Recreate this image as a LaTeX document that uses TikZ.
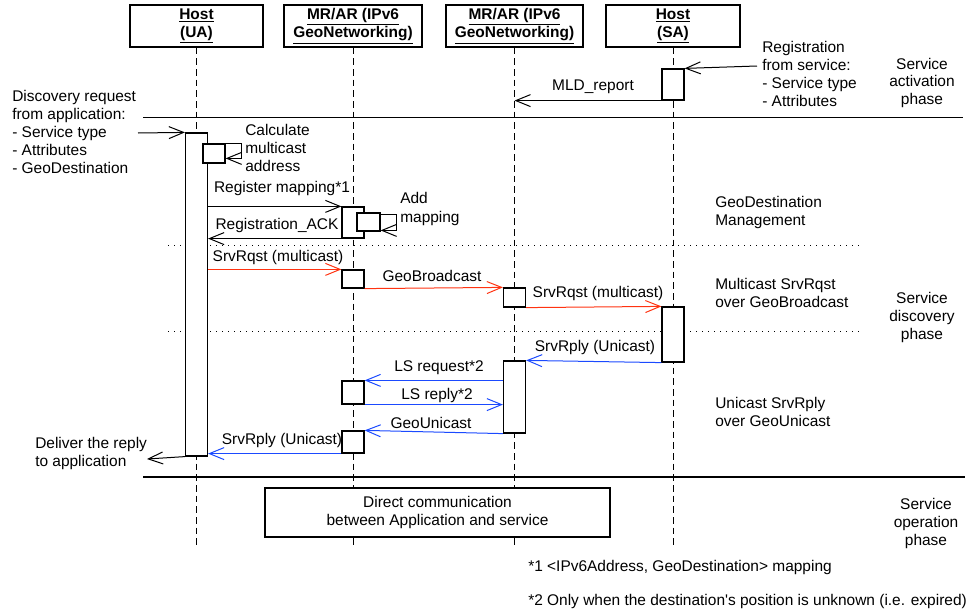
\documentclass[tikz,border=0pt]{standalone}
\usepackage{fontspec}
\setmainfont{Liberation Sans}[Ligatures=TeXOff]
\usetikzlibrary{arrows.meta,fit,calc}
\definecolor{msgred}{RGB}{255,51,17}
\definecolor{msgblue}{RGB}{27,74,255}
\begin{document}
\begin{tikzpicture}[x=0.75pt,y=-0.75pt,
  every node/.style={font=\fontsize{11.6}{13.5}\selectfont},
  hdr/.style={draw, fill=white, line width=1pt, align=center,
    font=\fontsize{11.6}{13.5}\selectfont\bfseries, minimum height=31.5pt, inner sep=0pt},
  life/.style={dash pattern=on 5pt off 3pt, line width=0.75pt},
  act/.style={draw, fill=white, inner sep=0pt, line width=0.9pt},
  msg/.style={-{Straight Barb[length=11pt,width=9pt]}, line width=0.75pt},
  sep/.style={line width=0.9pt},
  dotsep/.style={dash pattern=on 1pt off 3.5pt, line width=0.75pt},
  txt/.style={align=left, inner sep=0pt, anchor=west},
  lbl/.style={inner sep=0pt},
  phase/.style={align=center, inner sep=0pt}]
\useasboundingbox (0,0) rectangle (972,614);

% participants
\node[hdr, minimum width=99.75pt]  (hua)  at (196.5,26) {\underline{Host}\\\underline{(UA)}};
\node[hdr, minimum width=103.5pt]  (hmr1) at (353,26)   {\underline{MR/AR (IPv6}\\\underline{GeoNetworking)}};
\node[hdr, minimum width=102.75pt] (hmr2) at (514.5,26) {\underline{MR/AR (IPv6}\\\underline{GeoNetworking)}};
\node[hdr, minimum width=100.5pt]  (hsa)  at (673,26)   {\underline{Host}\\\underline{(SA)}};

% lifelines
\coordinate (bot) at (0,548);
\foreach \n in {hua,hmr1,hmr2,hsa}
  \draw[life] (\n.south) -- (\n.south |- bot);

% phase separators
\coordinate (s1L) at (143,117.5); \coordinate (s1R) at (963,117.5);
\coordinate (s2L) at (143,477);   \coordinate (s2R) at (965,477);
\coordinate (d1L) at (168,245.5); \coordinate (d1R) at (860,245.5);
\coordinate (d2L) at (168,331.5); \coordinate (d2R) at (860,331.5);
\draw[sep] (s1L) -- (s1R);
\draw[sep] (s2L) -- (s2R);
\draw[dotsep] (d1L) -- (d1R);
\draw[dotsep] (d2L) -- (d2R);

% activation boxes
\node[act, fit={(185.5,133) (207.5,456)}] (uaAct) {};
\node[act, fit={(203,144) (225,163)}] (uaSelf) {};
\node[act, fit={(662,69) (684,100)}] (saA) {};
\node[act, fit={(342,207) (364,238)}] (mr1a) {};
\node[act, fit={(357,213) (380,231)}] (mr1self) {};
\node[act, fit={(342,270) (364,288)}] (mr1b) {};
\node[act, fit={(503.5,288) (525.5,307)}] (mr2a) {};
\node[act, fit={(662,307) (684,362)}] (saB) {};
\node[act, fit={(503.5,361) (525.5,433)}] (mr2b) {};
\node[act, fit={(342,381) (364,404)}] (mr1c) {};
\node[act, fit={(342,431) (364,453)}] (mr1d) {};

% direct communication
\node[draw, fill=white, line width=0.9pt, align=center, inner sep=0pt,
      minimum width=258.75pt, minimum height=36.75pt] (direct) at (437.5,512.5)
      {Direct communication\\between Application and service};

% messages
\coordinate (regIn) at (757,66);
\draw[msg] (regIn) -- (saA.north east);
\draw[msg] (saA.south west) -- (hmr2.south |- saA.south);
\coordinate (discIn) at (138,133);
\draw[msg] (discIn) -- (uaAct.north west);
\draw[msg] (uaSelf.north east) -- ++(16,0) -- ++(0,15) -- ++(-16,0);
\draw[msg] (uaAct.east |- mr1a.north) -- (mr1a.north west);
\draw[msg] ($(mr1self.north east)+(0,2)$) -- ++(16,0) -- ++(0,16) -- ++(-16,0);
\draw[msg] (mr1a.south west) -- (uaAct.east |- mr1a.south);
\draw[msg, msgred] (uaAct.east |- mr1b.north) -- (mr1b.north west);
\draw[msg, msgred] (mr1b.south east) -- (mr2a.north west);
\draw[msg, msgred] (mr2a.south east) -- (saB.north west);
\draw[msg, msgblue] (saB.south west) -- (mr2b.north east);
\draw[msg, msgblue] (mr2b.west |- mr1c.north) -- (mr1c.north east);
\draw[msg, msgblue] (mr1c.south east) -- (mr2b.west |- mr1c.south);
\draw[msg, msgblue] (mr2b.south west) -- (mr1d.north east);
\draw[msg, msgblue] (mr1d.south west) -- (uaAct.east |- mr1d.south);
\coordinate (deliverOut) at (147,459);
\draw[msg] (uaAct.south west) -- (deliverOut);

% message labels
\node[lbl] (lMld)   at (593,87)  {MLD\_report};
\node[lbl] (lReg)   at (282,188) {Register mapping*1};
\node[lbl] (lAck)   at (277,225) {Registration\_ACK};
\node[lbl] (lRq1)   at (278,257) {SrvRqst (multicast)};
\node[lbl] (lGeoB)  at (432,276) {GeoBroadcast};
\node[lbl] (lRq2)   at (598,293) {SrvRqst (multicast)};
\node[lbl] (lRp1)   at (595,347) {SrvRply (Unicast)};
\node[lbl] (lLsq)   at (439,368) {LS request*2};
\node[lbl] (lLsp)   at (437,395) {LS reply*2};
\node[lbl] (lGeoU)  at (431,423) {GeoUnicast};
\node[lbl] (lRp2)   at (282,440) {SrvRply (Unicast)};

% notes
\node[txt] (nCalc) at (245,147.5) {Calculate\\multicast\\address};
\node[txt] (nAdd)  at (400,209)   {Add\\mapping};
\node[txt] (nDisc) at (12,131.5)  {Discovery request\\from application:\\- Service type\\- Attributes\\- GeoDestination};
\node[txt] (nDel)  at (35,453)    {Deliver the reply\\to application};
\node[txt] (nSrv)  at (762,74)    {Registration\\from service:\\- Service type\\- Attributes};
\node[txt] (nGeoD) at (715,212)   {GeoDestination\\Management};
\node[txt] (nMul)  at (715,292.5) {Multicast SrvRqst\\over GeoBroadcast};
\node[txt] (nUni)  at (715,412)   {Unicast SrvRply\\over GeoUnicast};

% phases
\node[phase] (pAct) at (922,83)  {Service\\activation\\phase};
\node[phase] (pDis) at (922,317) {Service\\discovery\\phase};
\node[phase] (pOp)  at (926,523) {Service\\operation\\phase};

% footnotes
\node[txt] (f1) at (528,567) {*1 <IPv6Address, GeoDestination> mapping};
\node[txt] (f2) at (528,601) {*2 Only when the destination's position is unknown (i.e. expired)};
\end{tikzpicture}
\end{document}
